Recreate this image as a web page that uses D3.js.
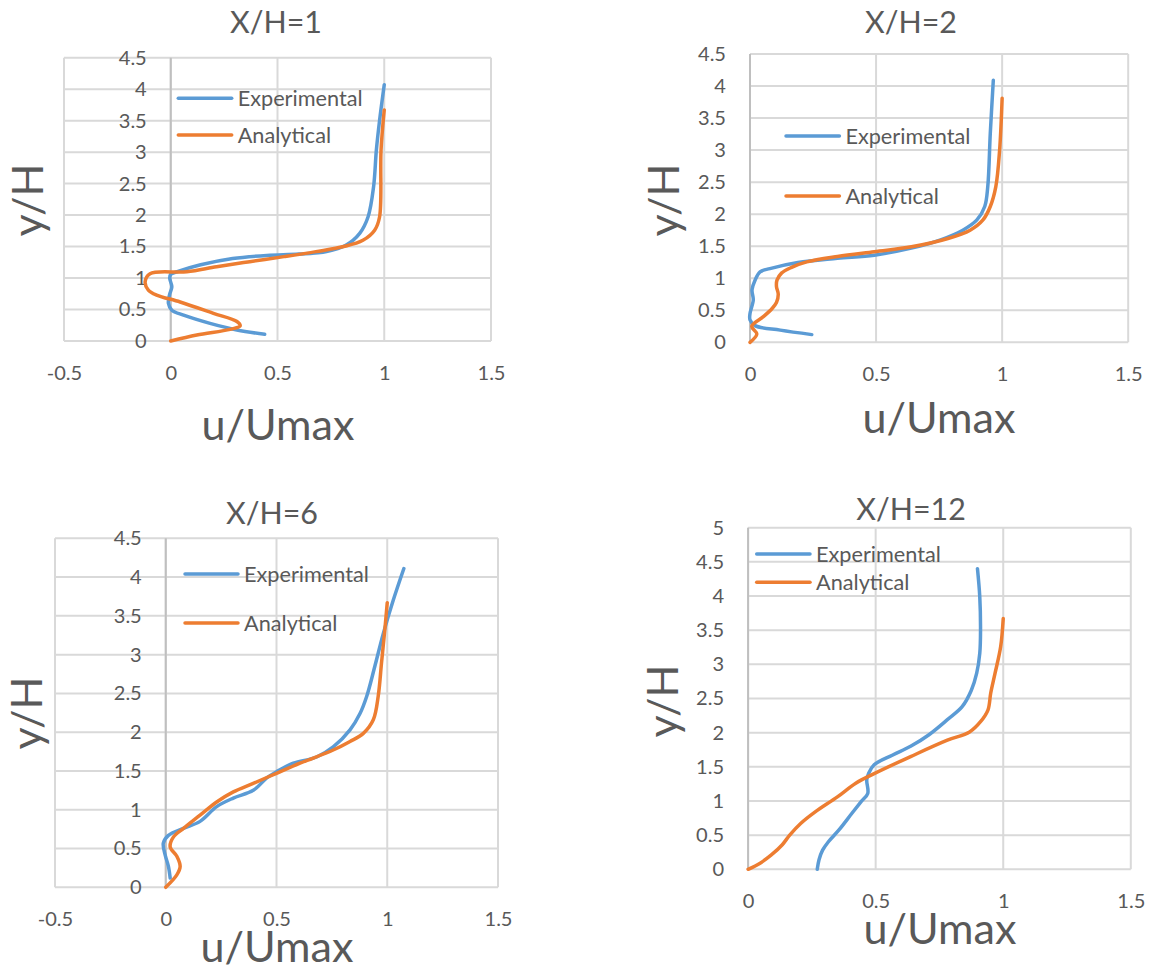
<!DOCTYPE html>
<html>
<head>
<meta charset="utf-8">
<script src="https://cdn.jsdelivr.net/npm/d3@7"></script>
<style>
  body { margin: 0; background: #ffffff; }
  svg { display: block; }
</style>
</head>
<body>
<svg id="chart" width="1154" height="970"></svg>
<script>
// ---- chart content ----
const titles = ["X/H=1", "X/H=2", "X/H=6", "X/H=12"];
const seriesNames = ["Experimental", "Analytical"];
const xAxisTitle = "u/Umax";
const yAxisTitle = "y/H";

// tick values
const xTicksWide = [-0.5, 0, 0.5, 1, 1.5];
const xTicksNarrow = [0, 0.5, 1, 1.5];
const yTicks45 = [0, 0.5, 1, 1.5, 2, 2.5, 3, 3.5, 4, 4.5];
const yTicks5 = [0, 0.5, 1, 1.5, 2, 2.5, 3, 3.5, 4, 4.5, 5];

// velocity profiles, [u/Umax, y/H]
const exp1 = [[1.0,4.07],[0.978,3.5],[0.963,3.03],[0.95,2.45],[0.924,1.97],[0.885,1.71],[0.82,1.52],[0.73,1.42],[0.60,1.38],[0.45,1.36],[0.29,1.31],[0.14,1.21],[0.03,1.10],[0.0,1.06],[-0.005,1.0],[0.005,0.86],[-0.006,0.73],[-0.011,0.60],[0.005,0.49],[0.06,0.41],[0.184,0.28],[0.31,0.175],[0.44,0.106]];
const ana1 = [[1.0,3.67],[0.985,3.03],[0.978,1.97],[0.955,1.76],[0.90,1.60],[0.81,1.50],[0.68,1.42],[0.53,1.34],[0.37,1.26],[0.215,1.18],[0.075,1.10],[-0.097,1.07],[-0.12,0.94],[-0.105,0.81],[-0.066,0.73],[0.044,0.62],[0.2,0.44],[0.31,0.31],[0.325,0.24],[0.278,0.185],[0.122,0.095],[0,0]];

const exp2 = [[0.965,4.09],[0.953,3.26],[0.943,2.43],[0.931,2.12],[0.90,1.91],[0.844,1.75],[0.756,1.60],[0.64,1.47],[0.493,1.36],[0.347,1.31],[0.19,1.245],[0.079,1.15],[0.04,1.10],[0.02,0.97],[0.008,0.82],[0.013,0.66],[0.0,0.45],[0.0,0.35],[0.02,0.26],[0.12,0.19],[0.245,0.12]];
const ana2 = [[1.0,3.81],[0.99,3.0],[0.975,2.43],[0.953,2.12],[0.924,1.91],[0.873,1.75],[0.785,1.62],[0.64,1.49],[0.493,1.415],[0.347,1.34],[0.225,1.255],[0.165,1.17],[0.125,1.08],[0.107,0.97],[0.105,0.87],[0.112,0.75],[0.105,0.62],[0.086,0.52],[0.053,0.40],[0.007,0.25],[0.027,0.13],[0,0]];

const exp3 = [[1.075,4.11],[1.027,3.70],[0.982,3.27],[0.944,2.85],[0.907,2.46],[0.877,2.24],[0.832,2.03],[0.756,1.81],[0.681,1.68],[0.576,1.60],[0.50,1.49],[0.456,1.41],[0.395,1.25],[0.305,1.15],[0.23,1.04],[0.155,0.85],[0.08,0.76],[0.012,0.67],[-0.011,0.57],[-0.003,0.42],[0.012,0.27],[0.02,0.12]];
const ana3 = [[1.0,3.67],[0.989,3.32],[0.974,2.89],[0.959,2.46],[0.937,2.16],[0.892,1.985],[0.832,1.88],[0.756,1.77],[0.606,1.60],[0.50,1.47],[0.395,1.34],[0.305,1.23],[0.23,1.10],[0.155,0.93],[0.08,0.76],[0.035,0.65],[0.02,0.52],[0.05,0.40],[0.065,0.27],[0.05,0.16],[0,0]];

const exp4 = [[0.899,4.40],[0.908,3.99],[0.911,3.50],[0.908,3.16],[0.896,2.87],[0.875,2.62],[0.839,2.38],[0.781,2.19],[0.709,1.97],[0.637,1.80],[0.565,1.67],[0.494,1.53],[0.472,1.40],[0.465,1.31],[0.469,1.11],[0.443,0.99],[0.407,0.82],[0.357,0.58],[0.314,0.40],[0.292,0.28],[0.278,0.14],[0.271,0]];
const ana4 = [[1.0,3.67],[0.99,3.26],[0.968,2.87],[0.951,2.58],[0.94,2.33],[0.911,2.16],[0.868,2.01],[0.781,1.89],[0.637,1.65],[0.494,1.40],[0.422,1.26],[0.35,1.06],[0.263,0.84],[0.206,0.67],[0.163,0.50],[0.134,0.36],[0.091,0.21],[0.047,0.09],[0,0]];

// ---- styling ----
const FONT = "Lato, 'Open Sans', sans-serif";
const TEXT_COLOR = "#595959";
const GRID_COLOR = "#d9d9d9";
const AXIS_COLOR = "#bfbfbf";
const COLOR_EXP = "#5b9bd5";
const COLOR_ANA = "#ed7d31";

const panels = [
  { title: titles[0], exp: exp1, ana: ana1, xTicks: xTicksWide, yTicks: yTicks45,
    box: { l: 64, r: 491, t: 57.7, b: 341 }, titleAt: [276, 33], yTitleAt: [43, 200], xTitleAt: [278, 440],
    legend: { x0: 178.3, x1: 231.7, y: [98.3, 135] } },
  { title: titles[1], exp: exp2, ana: ana2, xTicks: xTicksNarrow, yTicks: yTicks45,
    box: { l: 750, r: 1128.2, t: 54, b: 342.3 }, titleAt: [911, 33], yTitleAt: [679, 200], xTitleAt: [939, 433],
    legend: { x0: 786, x1: 839.4, y: [136, 196] } },
  { title: titles[2], exp: exp3, ana: ana3, xTicks: xTicksWide, yTicks: yTicks45,
    box: { l: 55, r: 498, t: 538.3, b: 887.3 }, titleAt: [272, 524], yTitleAt: [42, 713], xTitleAt: [277, 962],
    legend: { x0: 185, x1: 238, y: [574, 623] } },
  { title: titles[3], exp: exp4, ana: ana4, xTicks: xTicksNarrow, yTicks: yTicks5,
    box: { l: 748.1, r: 1130.8, t: 527.7, b: 869.3 }, titleAt: [911, 520], yTitleAt: [678, 701], xTitleAt: [940, 944],
    legend: { x0: 756.7, x1: 810, y: [554, 582.3] } }
];

const svg = d3.select("#chart");

// font size that gives a string a chosen rendered width
function sizeForWidth(str, width) {
  const t = svg.append("text").attr("font-family", FONT).attr("font-size", 100).text(str);
  const w = t.node().getComputedTextLength();
  t.remove();
  return 100 * width / w;
}
const titleSize = sizeForWidth("X/H=1", 92);
const axisTitleSize = sizeForWidth(xAxisTitle, 153);
const legendSize = sizeForWidth("Experimental", 125);
const tickSize = sizeForWidth("4.5", 28);

// plain hyphen-minus for negative ticks
const tickFormat = d => String(d);

const line = d3.line().curve(d3.curveCatmullRom.alpha(0.5));

panels.forEach(p => {
  const x = d3.scaleLinear()
    .domain(d3.extent(p.xTicks))
    .range([p.box.l, p.box.r]);
  const y = d3.scaleLinear()
    .domain(d3.extent(p.yTicks))
    .range([p.box.b, p.box.t]);

  const g = svg.append("g");

  // grid
  g.append("g").selectAll("line").data(p.yTicks).join("line")
    .attr("x1", p.box.l).attr("x2", p.box.r)
    .attr("y1", d => y(d)).attr("y2", d => y(d))
    .attr("stroke", GRID_COLOR).attr("stroke-width", 2);
  g.append("g").selectAll("line").data(p.xTicks).join("line")
    .attr("x1", d => x(d)).attr("x2", d => x(d))
    .attr("y1", p.box.t).attr("y2", p.box.b)
    .attr("stroke", GRID_COLOR).attr("stroke-width", 2);

  // vertical axis at u/Umax = 0
  g.append("line")
    .attr("x1", x(0)).attr("x2", x(0))
    .attr("y1", p.box.t).attr("y2", p.box.b)
    .attr("stroke", AXIS_COLOR).attr("stroke-width", 2);

  // y tick labels sit to the left of the axis line
  const yAxis = d3.axisLeft(y).tickValues(p.yTicks).tickSize(0).tickPadding(24)
    .tickFormat(tickFormat);
  const ya = g.append("g").attr("transform", `translate(${x(0)},0)`).call(yAxis);
  ya.select(".domain").remove();
  ya.selectAll("text")
    .attr("font-family", FONT).attr("font-size", tickSize).attr("fill", TEXT_COLOR);

  // x tick labels below the plot
  const xAxis = d3.axisBottom(x).tickValues(p.xTicks).tickSize(0).tickPadding(0)
    .tickFormat(tickFormat);
  const xa = g.append("g").attr("transform", `translate(0,${p.box.b})`).call(xAxis);
  xa.select(".domain").remove();
  xa.selectAll("text")
    .attr("dy", null).attr("y", 38.5)
    .attr("font-family", FONT).attr("font-size", tickSize).attr("fill", TEXT_COLOR);

  // series
  [[p.exp, COLOR_EXP], [p.ana, COLOR_ANA]].forEach(([data, color]) => {
    g.append("path")
      .attr("d", line(data.map(d => [x(d[0]), y(d[1])])))
      .attr("fill", "none")
      .attr("stroke", color)
      .attr("stroke-width", 3.5)
      .attr("stroke-linecap", "round")
      .attr("stroke-linejoin", "round");
  });

  // legend
  [COLOR_EXP, COLOR_ANA].forEach((color, i) => {
    const ly = p.legend.y[i];
    g.append("line")
      .attr("x1", p.legend.x0).attr("x2", p.legend.x1)
      .attr("y1", ly).attr("y2", ly)
      .attr("stroke", color).attr("stroke-width", 3.5).attr("stroke-linecap", "round");
    g.append("text")
      .attr("x", p.legend.x1 + 6).attr("y", ly)
      .attr("dominant-baseline", "central")
      .attr("font-family", FONT).attr("font-size", legendSize).attr("fill", TEXT_COLOR)
      .text(seriesNames[i]);
  });

  // titles
  g.append("text")
    .attr("x", p.titleAt[0]).attr("y", p.titleAt[1])
    .attr("text-anchor", "middle")
    .attr("font-family", FONT).attr("font-size", titleSize).attr("fill", TEXT_COLOR)
    .text(p.title);
  g.append("text")
    .attr("x", p.xTitleAt[0]).attr("y", p.xTitleAt[1])
    .attr("text-anchor", "middle")
    .attr("font-family", FONT).attr("font-size", axisTitleSize).attr("fill", TEXT_COLOR)
    .text(xAxisTitle);
  g.append("text")
    .attr("transform", `translate(${p.yTitleAt[0]},${p.yTitleAt[1]}) rotate(-90)`)
    .attr("text-anchor", "middle")
    .attr("font-family", FONT).attr("font-size", axisTitleSize).attr("fill", TEXT_COLOR)
    .text(yAxisTitle);
});
</script>
</body>
</html>
